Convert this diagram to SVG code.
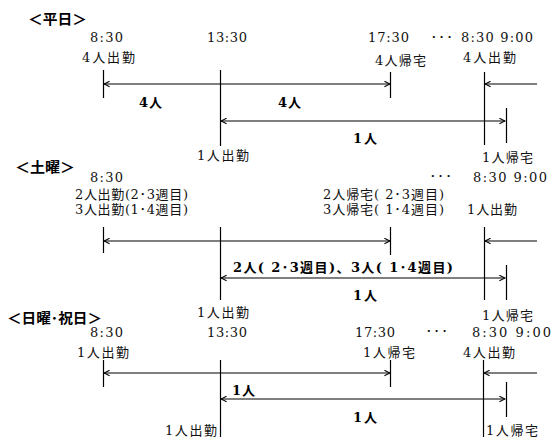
<svg xmlns="http://www.w3.org/2000/svg" width="553" height="439" viewBox="0 0 553 439">
<style>
text{font-family:"DejaVu Serif","Noto Sans CJK JP",serif;font-size:13px;fill:#111}
.b{font-weight:bold;font-size:13px;fill:#000}
.h{font-family:"Noto Sans CJK JP","Liberation Sans",sans-serif;font-weight:bold;font-size:14px;fill:#000}
.d{font-family:"Liberation Sans",sans-serif;font-weight:bold;font-size:13px}
line{stroke:#000;stroke-width:1.2}
.a{marker-end:url(#ah)}
.aa{marker-start:url(#ahs);marker-end:url(#ah)}
</style>
<defs>
<marker id="ah" viewBox="0 0 10 10" refX="9" refY="5" markerWidth="7" markerHeight="7" markerUnits="userSpaceOnUse" orient="auto"><path d="M1,1 L9,5 L1,9" fill="none" stroke="#000" stroke-width="1.5"/></marker>
<marker id="ahs" viewBox="0 0 10 10" refX="1" refY="5" markerWidth="7" markerHeight="7" markerUnits="userSpaceOnUse" orient="auto"><path d="M9,1 L1,5 L9,9" fill="none" stroke="#000" stroke-width="1.5"/></marker>
</defs>

<g id="weekday">
<text class="h" x="28" y="24" textLength="59" lengthAdjust="spacingAndGlyphs">＜平日＞</text>
<text x="90" y="42" textLength="33" lengthAdjust="spacing">8:30</text>
<text x="207" y="42" textLength="40" lengthAdjust="spacing">13:30</text>
<text x="368" y="42" textLength="41" lengthAdjust="spacing">17:30</text>
<text class="d" x="432" y="41" textLength="20" lengthAdjust="spacing">···</text>
<text x="461" y="42" textLength="72" lengthAdjust="spacing">8:30 9:00</text>
<text x="82" y="62" textLength="53" lengthAdjust="spacing">4人出勤</text>
<text x="375" y="65" textLength="51" lengthAdjust="spacing">4人帰宅</text>
<text x="463" y="62" textLength="53" lengthAdjust="spacing">4人出勤</text>
<text class="b" x="139" y="107" textLength="23" lengthAdjust="spacing">4人</text>
<text class="b" x="278" y="107" textLength="23" lengthAdjust="spacing">4人</text>
<text class="b" x="353" y="143" textLength="24" lengthAdjust="spacing">1人</text>
<text x="197" y="160" textLength="52" lengthAdjust="spacing">1人出勤</text>
<text x="482" y="162" textLength="51" lengthAdjust="spacing">1人帰宅</text>
</g>

<g id="saturday">
<text class="h" x="15" y="172" textLength="60" lengthAdjust="spacingAndGlyphs">＜土曜＞</text>
<text x="90" y="182" textLength="33" lengthAdjust="spacing">8:30</text>
<text class="d" x="431" y="180" textLength="20" lengthAdjust="spacing">···</text>
<text x="473" y="182" textLength="74" lengthAdjust="spacing">8:30  9:00</text>
<text x="75" y="199" textLength="113" lengthAdjust="spacing">2人出勤(2･3週目)</text>
<text x="75" y="214" textLength="113" lengthAdjust="spacing">3人出勤(1･4週目)</text>
<text x="323" y="199" textLength="121" lengthAdjust="spacing">2人帰宅( 2･3週目)</text>
<text x="323" y="214" textLength="121" lengthAdjust="spacing">3人帰宅( 1･4週目)</text>
<text x="467" y="214" textLength="50" lengthAdjust="spacing">1人出勤</text>
<text class="b" x="233" y="272" textLength="220" lengthAdjust="spacing">2人( 2･3週目)、3人( 1･4週目)</text>
<text class="b" x="353" y="300" textLength="24" lengthAdjust="spacing">1人</text>
<text x="197" y="317" textLength="52" lengthAdjust="spacing">1人出勤</text>
<text x="482" y="320" textLength="51" lengthAdjust="spacing">1人帰宅</text>
</g>

<g id="sunday">
<text class="h" x="7" y="323" textLength="95" lengthAdjust="spacingAndGlyphs">＜日曜･祝日＞</text>
<text x="90" y="337" textLength="33" lengthAdjust="spacing">8:30</text>
<text x="207" y="337" textLength="40" lengthAdjust="spacing">13:30</text>
<text x="355" y="337" textLength="40" lengthAdjust="spacing">17:30</text>
<text class="d" x="427" y="335" textLength="20" lengthAdjust="spacing">···</text>
<text x="472" y="337" textLength="79" lengthAdjust="spacing">8:30  9:00</text>
<text x="77" y="357" textLength="52" lengthAdjust="spacing">1人出勤</text>
<text x="363" y="357" textLength="52" lengthAdjust="spacing">1人帰宅</text>
<text x="463" y="357" textLength="52" lengthAdjust="spacing">4人出勤</text>
<text class="b" x="232" y="395" textLength="23" lengthAdjust="spacing">1人</text>
<text class="b" x="353" y="422" textLength="24" lengthAdjust="spacing">1人</text>
<text x="165" y="435" textLength="52" lengthAdjust="spacing">1人出勤</text>
<text x="486" y="435" textLength="52" lengthAdjust="spacing">1人帰宅</text>
</g>

<g id="connectors">
<line x1="103.5" y1="70" x2="103.5" y2="98"/>
<line x1="220.5" y1="70" x2="220.5" y2="146"/>
<line x1="390.5" y1="72" x2="390.5" y2="98"/>
<line x1="484.5" y1="72" x2="484.5" y2="145"/>
<line x1="506.5" y1="108" x2="506.5" y2="143"/>
<line class="aa" x1="104" y1="84" x2="390" y2="84"/>
<line class="aa" x1="221" y1="121" x2="505" y2="121"/>
<line class="a" x1="537" y1="84" x2="485" y2="84"/>

<line x1="103.5" y1="227" x2="103.5" y2="253"/>
<line x1="220.5" y1="227" x2="220.5" y2="300"/>
<line x1="390.5" y1="227" x2="390.5" y2="255"/>
<line x1="484.5" y1="227" x2="484.5" y2="300"/>
<line x1="506.5" y1="265" x2="506.5" y2="300"/>
<line class="aa" x1="104" y1="241" x2="390" y2="241"/>
<line class="aa" x1="221" y1="278" x2="505" y2="278"/>
<line class="a" x1="537" y1="241" x2="485" y2="241"/>

<line x1="103.5" y1="360" x2="103.5" y2="387"/>
<line x1="220.5" y1="360" x2="220.5" y2="437"/>
<line x1="390.5" y1="360" x2="390.5" y2="387"/>
<line x1="483.5" y1="360" x2="483.5" y2="437"/>
<line x1="506.5" y1="382" x2="506.5" y2="417"/>
<line class="aa" x1="104" y1="373" x2="390" y2="373"/>
<line class="aa" x1="221" y1="399" x2="505" y2="399"/>
<line class="a" x1="537" y1="373" x2="484" y2="373"/>
</g>
</svg>
